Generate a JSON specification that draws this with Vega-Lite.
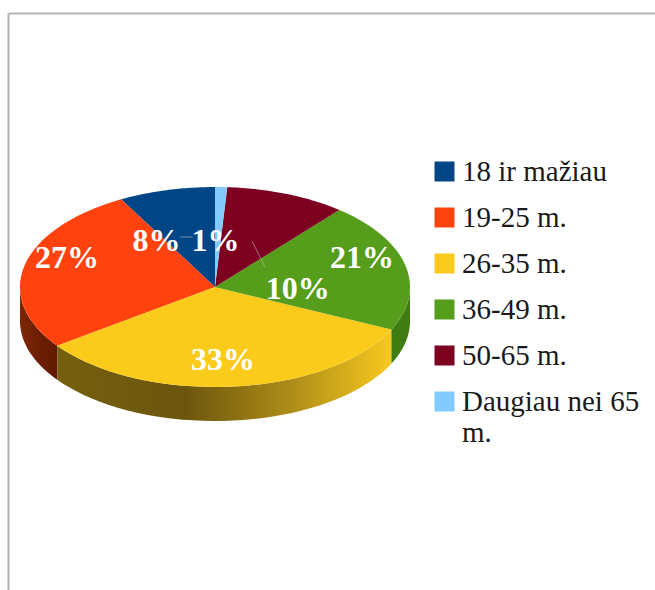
{
  "$schema": "https://vega.github.io/schema/vega-lite/v6.json",
  "width": 647,
  "height": 577,
  "padding": {"left": 8, "top": 13, "right": 0, "bottom": 0},
  "autosize": "none",
  "background": "white",
  "view": {"stroke": null},
  "data": {"values": [
    {"group": "18 ir mažiau", "pct": 8},
    {"group": "19-25 m.", "pct": 27},
    {"group": "26-35 m.", "pct": 33},
    {"group": "36-49 m.", "pct": 21},
    {"group": "50-65 m.", "pct": 10},
    {"group": "Daugiau nei 65 m.", "pct": 1}
  ]},
  "transform": [
    {"window": [{"op": "sum", "field": "pct", "as": "cum"}], "sort": [{"field": "group", "order": "ascending"}]},
    {"calculate": "90 + (datum.cum - datum.pct) * 3.6", "as": "start"},
    {"calculate": "90 + datum.cum * 3.6", "as": "end"}
  ],
  "encoding": {
    "x": {"field": "px", "type": "quantitative",
      "scale": {"domain": [-1.0615, 2.2564], "nice": false, "zero": false},
      "axis": {"orient": "top", "title": null, "labels": false, "ticks": false, "grid": false, "domain": true, "domainColor": "#b4b4b4", "domainWidth": 2}},
    "y": {"field": "py", "type": "quantitative",
      "scale": {"domain": [-3.03, 2.74], "nice": false, "zero": false},
      "axis": {"orient": "left", "title": null, "labels": false, "ticks": false, "grid": false, "domain": true, "domainColor": "#b4b4b4", "domainWidth": 2}}
  },
  "layer": [
    {
      "transform": [
        {"filter": "datum.group === '19-25 m.'"},
        {"calculate": "max(datum.start, 180)", "as": "lo"},
        {"calculate": "min(datum.end, 360)", "as": "hi"},
        {"calculate": "sequence(0, 82)", "as": "step"},
        {"flatten": ["step"]},
        {"calculate": "datum.step <= 40 ? datum.step / 40 : (81 - datum.step) / 40", "as": "f"},
        {"calculate": "(datum.lo + (datum.hi - datum.lo) * datum.f) * PI / 180", "as": "t"},
        {"calculate": "cos(datum.t)", "as": "px"},
        {"calculate": "sin(datum.t) - (datum.step > 40 ? 0.34 : 0)", "as": "py"}
      ],
      "mark": {"type": "line", "filled": true, "stroke": null, "fill": {"gradient": "linear", "x1": 0, "y1": 0, "x2": 1, "y2": 0, "stops": [{"offset": 0, "color": "#7d2606"}, {"offset": 0.5, "color": "#6e1e02"}, {"offset": 1, "color": "#611a00"}]}},
      "encoding": {"order": {"field": "step", "type": "quantitative"}}
    },
    {
      "transform": [
        {"filter": "datum.group === '26-35 m.'"},
        {"calculate": "max(datum.start, 180)", "as": "lo"},
        {"calculate": "min(datum.end, 360)", "as": "hi"},
        {"calculate": "sequence(0, 82)", "as": "step"},
        {"flatten": ["step"]},
        {"calculate": "datum.step <= 40 ? datum.step / 40 : (81 - datum.step) / 40", "as": "f"},
        {"calculate": "(datum.lo + (datum.hi - datum.lo) * datum.f) * PI / 180", "as": "t"},
        {"calculate": "cos(datum.t)", "as": "px"},
        {"calculate": "sin(datum.t) - (datum.step > 40 ? 0.34 : 0)", "as": "py"}
      ],
      "mark": {"type": "line", "filled": true, "stroke": null, "fill": {"gradient": "linear", "x1": 0, "y1": 0, "x2": 1, "y2": 0, "stops": [{"offset": 0, "color": "#75600f"}, {"offset": 0.38, "color": "#6c550d"}, {"offset": 0.7, "color": "#ae8d18"}, {"offset": 1, "color": "#f7c81e"}]}},
      "encoding": {"order": {"field": "step", "type": "quantitative"}}
    },
    {
      "transform": [
        {"filter": "datum.group === '36-49 m.'"},
        {"calculate": "max(datum.start, 180)", "as": "lo"},
        {"calculate": "min(datum.end, 360)", "as": "hi"},
        {"calculate": "sequence(0, 82)", "as": "step"},
        {"flatten": ["step"]},
        {"calculate": "datum.step <= 40 ? datum.step / 40 : (81 - datum.step) / 40", "as": "f"},
        {"calculate": "(datum.lo + (datum.hi - datum.lo) * datum.f) * PI / 180", "as": "t"},
        {"calculate": "cos(datum.t)", "as": "px"},
        {"calculate": "sin(datum.t) - (datum.step > 40 ? 0.34 : 0)", "as": "py"}
      ],
      "mark": {"type": "line", "filled": true, "stroke": null, "fill": "#3f7c12"},
      "encoding": {"order": {"field": "step", "type": "quantitative"}}
    },
    {
      "transform": [
        {"calculate": "sequence(-1, 41)", "as": "step"},
        {"flatten": ["step"]},
        {"calculate": "(datum.start + (datum.end - datum.start) * datum.step / 40) * PI / 180", "as": "t"},
        {"calculate": "datum.step < 0 ? 0 : cos(datum.t)", "as": "px"},
        {"calculate": "datum.step < 0 ? 0 : sin(datum.t)", "as": "py"}
      ],
      "mark": {"type": "line", "filled": true, "stroke": null},
      "encoding": {
        "order": {"field": "step", "type": "quantitative"},
        "fill": {"field": "group", "type": "nominal",
          "scale": {
            "domain": ["18 ir mažiau", "19-25 m.", "26-35 m.", "36-49 m.", "50-65 m.", "Daugiau nei 65 m."],
            "range": ["#004586", "#ff420e", "#fbcb1c", "#579d1c", "#7e0021", "#83caff"]
          },
          "legend": {
            "orient": "none", "legendX": 422, "legendY": 144, "title": null, "padding": 0,
            "symbolType": "square", "symbolSize": 400, "symbolStrokeWidth": 0, "symbolOpacity": 1,
            "labelFont": "Liberation Serif", "labelFontSize": 29, "labelColor": "#1a1a1a", "labelOffset": 3, "labelLimit": 300,
            "rowPadding": 16,
            "labelExpr": "datum.label === 'Daugiau nei 65 m.' ? ['Daugiau nei 65', 'm.'] : datum.label",
            "encode": {"labels": {"enter": {"lineHeight": {"value": 38}}, "update": {"lineHeight": {"value": 38}}}}
          }
        }
      }
    },
    {
      "transform": [
        {"filter": "datum.group === 'Daugiau nei 65 m.' || datum.group === '50-65 m.'"},
        {"calculate": "datum.pct === 1 ? -0.18 : 0.19", "as": "px"},
        {"calculate": "datum.pct === 1 ? 0.5 : 0.46", "as": "py"},
        {"calculate": "datum.pct === 1 ? -0.115 : 0.256", "as": "px2"},
        {"calculate": "datum.pct === 1 ? 0.5 : 0.2", "as": "py2"}
      ],
      "mark": {"type": "rule", "stroke": "#c9b9bb", "strokeWidth": 1, "opacity": 0.6},
      "encoding": {"x2": {"field": "px2"}, "y2": {"field": "py2"}}
    },
    {
      "transform": [
        {"calculate": "{'18 ir mažiau': -0.3, '19-25 m.': -0.759, '26-35 m.': 0.041, '36-49 m.': 0.754, '50-65 m.': 0.424, 'Daugiau nei 65 m.': 0.003}[datum.group]", "as": "px"},
        {"calculate": "{'18 ir mažiau': 0.48, '19-25 m.': 0.31, '26-35 m.': -0.71, '36-49 m.': 0.31, '50-65 m.': 0, 'Daugiau nei 65 m.': 0.48}[datum.group]", "as": "py"},
        {"calculate": "datum.pct + '%'", "as": "label"}
      ],
      "mark": {"type": "text", "font": "Liberation Serif", "fontWeight": "bold", "fontSize": 32, "color": "white", "align": "center", "baseline": "middle", "dy": 2},
      "encoding": {"text": {"field": "label", "type": "nominal"}}
    }
  ]
}
